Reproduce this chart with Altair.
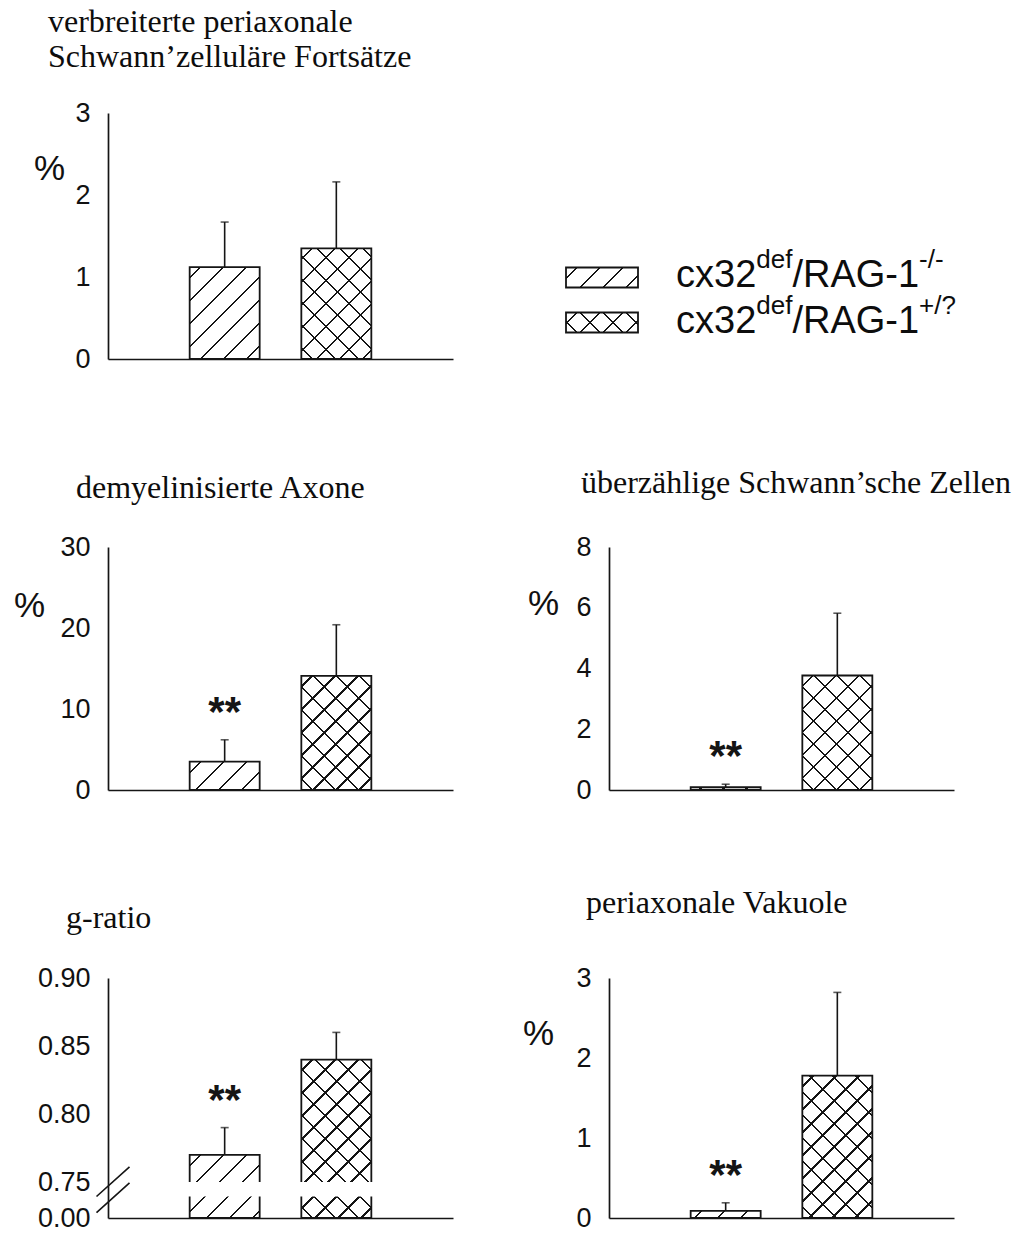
import altair as alt
import numpy as np
import pandas as pd

# ------------------------------------------------------------------ data
groups = ["cx32def/RAG-1-/-", "cx32def/RAG-1+/?"]
bar_pos = [1, 2]

title_p1 = "verbreiterte periaxonale\nSchwann’zelluläre Fortsätze"
title_p2 = "demyelinisierte Axone"
title_p3 = "überzählige Schwann’sche Zellen"
title_p4 = "g-ratio"
title_p5 = "periaxonale Vakuole"

p1_mean = [1.12, 1.35]
p1_err = [0.55, 0.81]
p2_mean = [3.5, 14.1]
p2_err = [2.7, 6.3]
p3_mean = [0.09, 3.77]
p3_err = [0.10, 2.05]
p4_mean = [0.77, 0.84]
p4_err = [0.02, 0.02]
p5_mean = [0.09, 1.78]
p5_err = [0.10, 1.04]

stars_none = ["", ""]
stars_first = ["**", ""]

ticks_p1 = [0, 1, 2, 3]
ticks_p2 = [0, 10, 20, 30]
ticks_p3 = [0, 2, 4, 6, 8]
ticks_p4 = [0.0, 0.75, 0.80, 0.85, 0.90]
ticks_p5 = [0, 1, 2, 3]

# broken g-ratio axis: domain pieces and the blanked band of the bars
g_domain = [0.0, 0.75, 0.90]
g_break = [0.45, 0.75]
g_break_mark = [0.59]

legend_main = "cx32"
legend_sup = "def"
legend_gene = "/RAG-1"
legend_geno = ["-/-", "+/?"]

# ------------------------------------------------------------------ style
INK = "#151515"
SANS = "Liberation Sans"
SERIF = "Liberation Serif"
W = 345
BAR_W = 70
CLEAR = "rgba(0,0,0,0)"
BREAK_PATH = "M-1,0.415L1,-1.385M-1,1.385L1,-0.415"

ARIAL = {"c": .5, "x": .5, "3": .556, "2": .556, "d": .556, "e": .556, "f": .278,
         "/": .278, "R": .722, "A": .667, "G": .778, "-": .333, "1": .556,
         "+": .584, "?": .556}


def twidth(s, size):
    return sum(ARIAL.get(ch, .556) for ch in s) * size


def hatch(w, h, direction, bg, spacing=23.0, lw=1.6, phase=11.0):
    h = max(h, 0.5)
    L = w + h
    n2 = w * w + h * h
    gx = L * w / n2
    gy = L * h / n2
    if direction == "/":
        x1, y1, x2, y2 = 0, 0, gx, gy
    else:
        x1, y1, x2, y2 = 0, 1, gx, 1 - gy
    half = lw * 2 ** 0.5 / 2 / L
    stops = [{"offset": 0, "color": bg}]
    pos = phase
    while pos < L:
        c = pos / L
        a = round(max(c - half, 0), 5)
        b = round(min(c + half, 1), 5)
        stops += [{"offset": a, "color": bg}, {"offset": a, "color": INK},
                  {"offset": b, "color": INK}, {"offset": b, "color": bg}]
        pos += spacing
    stops.append({"offset": 1, "color": bg})
    return {"gradient": "linear", "x1": x1, "y1": y1,
            "x2": round(x2, 5), "y2": round(y2, 5), "stops": stops}


def panel(title, tpos, mean, err, stars, ticks, H, pct=None, fmt="d",
          dom=None, rng=None, brk=False):
    top = [m + e for m, e in zip(mean, err)]
    df = pd.DataFrame({"pos": bar_pos, "group": groups, "mean": mean,
                       "top": top, "star": stars})
    if dom is None:
        dom = [0, ticks[-1]]
        rng = [H, 0]
        yscale = alt.Scale(domain=dom, nice=False)
    else:
        df["lo"] = g_break[0]
        df["hi"] = g_break[1]
        yscale = alt.Scale(domain=dom, range=rng, nice=False)

    def hpx(v):
        return H - float(np.interp(v, dom, rng))

    axis_kw = dict(values=ticks, format=fmt, grid=False, ticks=False,
                   domainColor=INK, domainWidth=1.7, labelFont=SANS,
                   labelFontSize=27, labelColor="#111111", labelPadding=18,
                   labelOverlap=False, labelFlush=False)
    if pct is not None:
        axis_kw.update(title="%", titleAngle=0, titleX=pct[0], titleY=pct[1],
                       titleFont=SANS, titleFontSize=35, titleFontWeight="normal",
                       titleColor="#111111", titleAlign="center",
                       titleBaseline="middle")
    else:
        axis_kw.update(title=None)
    yaxis = alt.Axis(**axis_kw)
    xscale = alt.Scale(domain=[0, 3], nice=False, zero=False)
    xaxis = alt.Axis(labels=False, ticks=False, grid=False, title=None,
                     domainColor=INK, domainWidth=1.7)

    X = alt.X("pos:Q", scale=xscale, axis=xaxis)
    Y = alt.Y("mean:Q", scale=yscale, axis=yaxis)
    YT = alt.Y("top:Q", scale=yscale, axis=yaxis)

    base = alt.Chart(df)
    h0, h1 = hpx(mean[0]), hpx(mean[1])
    bar_a = base.transform_filter(alt.datum.group == groups[0]).mark_bar(
        size=BAR_W, fill=hatch(BAR_W, h0, "/", "white"), stroke=INK,
        strokeWidth=1.8).encode(x=X, y=Y)
    bar_b1 = base.transform_filter(alt.datum.group == groups[1]).mark_bar(
        size=BAR_W, fill=hatch(BAR_W, h1, "/", "white"), strokeWidth=0
    ).encode(x=X, y=Y)
    bar_b2 = base.transform_filter(alt.datum.group == groups[1]).mark_bar(
        size=BAR_W, fill=hatch(BAR_W, h1, "\\", CLEAR), stroke=INK,
        strokeWidth=1.8).encode(x=X, y=Y)
    rule = base.mark_rule(color=INK, strokeWidth=1.6).encode(
        x=X, y=Y, y2="top:Q")
    caps = base.mark_tick(orient="horizontal", size=8, thickness=1.6,
                          color=INK).encode(x=X, y=YT)
    layers = [bar_a, bar_b1, bar_b2, rule, caps]
    if brk:
        gap = base.mark_bar(size=BAR_W + 8, color="white", strokeWidth=0).encode(
            x=X, y=alt.Y("lo:Q", scale=yscale, axis=yaxis), y2="hi:Q")
        slash = alt.Chart(pd.DataFrame({"pos": [0], "yb": g_break_mark})).mark_point(
            shape=BREAK_PATH, size=1089, filled=False, stroke=INK,
            strokeWidth=1.6, opacity=1).encode(
            x=X, y=alt.Y("yb:Q", scale=yscale, axis=yaxis))
        layers += [gap, slash]
    star = base.transform_filter(alt.datum.star != "").mark_text(
        font=SANS, fontSize=42, fontWeight="bold", color=INK,
        baseline="alphabetic", dy=-14).encode(x=X, y=YT, text="star:N")
    ttl = alt.Chart(pd.DataFrame({"t": [title]})).mark_text(
        font=SERIF, fontSize=32, color="#0d0d0d", align="left",
        baseline="alphabetic", lineBreak="\n", lineHeight=35).encode(
        x=alt.value(tpos[0]), y=alt.value(tpos[1]), text="t:N")
    layers += [star, ttl]
    return alt.layer(*layers).properties(width=W, height=H)


p1 = panel(title_p1, (-60, -81), p1_mean, p1_err, stars_none, ticks_p1, 246,
           pct=(-59, 55))
p2 = panel(title_p2, (-32, -49), p2_mean, p2_err, stars_first, ticks_p2, 243,
           pct=(-79, 58))
p3 = panel(title_p3, (-28, -54), p3_mean, p3_err, stars_first, ticks_p3, 243,
           pct=(-66, 56))
p4 = panel(title_p4, (-42, -50), p4_mean, p4_err, stars_first, ticks_p4, 240,
           fmt=".2f", dom=g_domain, rng=[240, 204, 0], brk=True)
p5 = panel(title_p5, (-23, -65), p5_mean, p5_err, stars_first, ticks_p5, 240,
           pct=(-71, 55))

# ------------------------------------------------------------------ legend
MAIN_FS, SUP_FS = 38, 26
ldf = pd.DataFrame({"group": groups, "geno": legend_geno,
                    "main": [legend_main] * 2, "sup": [legend_sup] * 2,
                    "gene": [legend_gene] * 2})
ly = alt.Y("group:N", axis=None,
           scale=alt.Scale(type="band", domain=groups, range=[154.5, 219.5],
                           paddingInner=0.556, paddingOuter=0))
lbase = alt.Chart(ldf)
SW_X0, SW_X1 = -43, 29
sw_w = SW_X1 - SW_X0
sw_h = 20
sw_a = lbase.transform_filter(alt.datum.group == groups[0]).mark_rect(
    fill=hatch(sw_w, sw_h, "/", "white"), stroke=INK, strokeWidth=1.8).encode(
    x=alt.value(SW_X0), x2=alt.value(SW_X1), y=ly)
sw_b1 = lbase.transform_filter(alt.datum.group == groups[1]).mark_rect(
    fill=hatch(sw_w, sw_h, "/", "white"), strokeWidth=0).encode(
    x=alt.value(SW_X0), x2=alt.value(SW_X1), y=ly)
sw_b2 = lbase.transform_filter(alt.datum.group == groups[1]).mark_rect(
    fill=hatch(sw_w, sw_h, "\\", CLEAR), stroke=INK, strokeWidth=1.8).encode(
    x=alt.value(SW_X0), x2=alt.value(SW_X1), y=ly)

tx0 = 67
tx1 = tx0 + twidth(legend_main, MAIN_FS)
tx2 = tx1 + twidth(legend_sup, SUP_FS)
tx3 = tx2 + twidth(legend_gene, MAIN_FS)


def ltext(field, xpos, size, dy):
    return lbase.mark_text(font=SANS, fontSize=size, color="#0d0d0d",
                           align="left", baseline="alphabetic", dy=dy).encode(
        x=alt.value(xpos), y=ly, text=f"{field}:N")


legend = alt.layer(
    sw_a, sw_b1, sw_b2,
    ltext("main", tx0, MAIN_FS, 10),
    ltext("sup", tx1, SUP_FS, -9),
    ltext("gene", tx2, MAIN_FS, 10),
    ltext("geno", tx3, SUP_FS, -9),
).properties(width=W, height=246)

chart = alt.concat(
    p1, legend, p2, p3, p4, p5, columns=2, bounds="flush",
    spacing={"row": 188, "column": 156},
).properties(
    padding={"left": 13, "top": 6, "right": 2, "bottom": 0},
    background="white",
).configure_view(stroke=None)

chart.save("out.html", embed_options={"renderer": "svg", "actions": False})
